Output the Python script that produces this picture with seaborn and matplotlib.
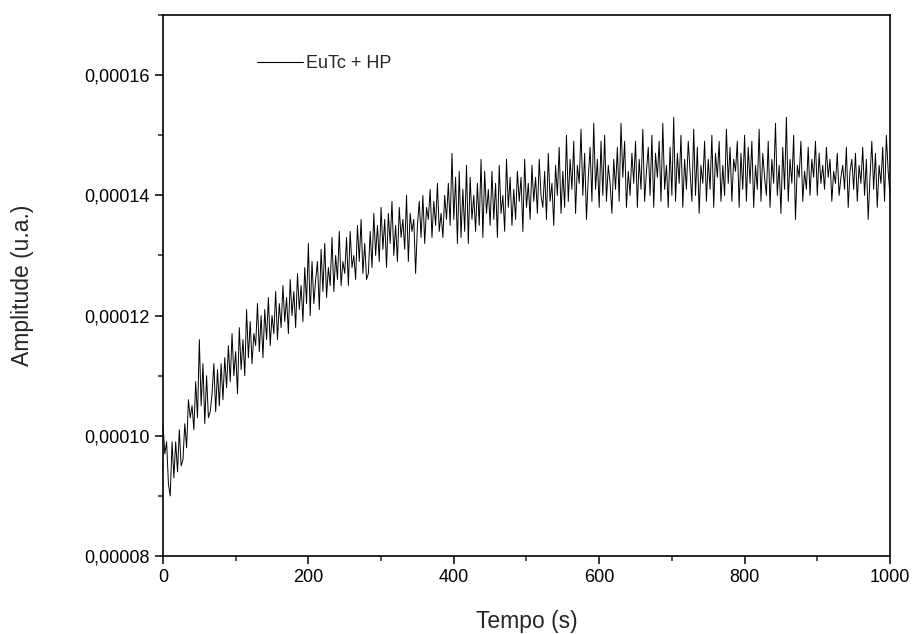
import numpy as np
import matplotlib
matplotlib.use('Agg')
import matplotlib.pyplot as plt
import seaborn as sns
from matplotlib.ticker import FuncFormatter, MultipleLocator

amp_e5 = [
    10.2, 9.7, 9.9, 9.2, 9.0, 9.9, 9.3, 9.9, 9.4, 10.1, 9.5, 9.6, 10.2, 9.8, 10.6, 10.3, 10.5, 10.1, 10.9, 10.3,
    11.6, 10.5, 11.2, 10.2, 11.0, 10.3, 10.4, 10.7, 11.2, 10.4, 11.1, 10.5, 11.2, 10.6, 11.3, 10.8, 11.5, 10.9, 11.7, 11.0,
    11.4, 10.7, 11.8, 11.1, 11.6, 11.0, 12.1, 11.3, 11.9, 11.2, 11.7, 11.5, 12.2, 11.4, 12.0, 11.3, 12.1, 11.6, 12.3, 11.5,
    12.0, 11.7, 12.4, 11.6, 12.2, 11.8, 12.5, 11.9, 12.3, 11.7, 12.6, 12.0, 12.4, 11.8, 12.7, 12.1, 12.5, 11.9, 12.8, 12.2,
    13.2, 12.0, 12.9, 12.2, 12.6, 12.9, 12.1, 13.1, 12.4, 13.2, 12.3, 12.8, 12.5, 13.3, 12.4, 13.0, 12.6, 13.4, 12.5, 12.9,
    12.7, 13.3, 12.5, 13.4, 12.8, 13.0, 12.6, 13.5, 12.9, 13.6, 12.7, 13.2, 12.6, 12.7, 13.4, 12.8, 13.7, 13.0, 13.5, 12.9,
    13.8, 13.1, 13.6, 12.8, 13.7, 13.2, 13.9, 13.0, 13.5, 12.9, 13.8, 13.3, 13.6, 13.1, 14.0, 12.9, 13.7, 13.4, 13.6, 12.7,
    13.5, 13.9, 13.3, 14.0, 13.2, 13.8, 13.6, 14.1, 13.3, 13.9, 13.5, 14.2, 13.4, 13.7, 13.3, 14.0, 13.6, 14.2, 13.5, 14.7,
    13.6, 14.3, 13.2, 14.4, 13.3, 14.1, 13.4, 14.5, 13.2, 14.3, 13.6, 14.0, 13.4, 14.2, 13.5, 14.6, 13.3, 14.4, 13.7, 14.1,
    13.5, 14.4, 13.6, 14.2, 13.3, 14.5, 13.7, 14.0, 13.4, 14.6, 13.8, 14.3, 13.5, 14.1, 13.6, 14.4, 13.9, 14.3, 13.4, 14.6,
    13.8, 14.2, 13.6, 14.5, 13.9, 14.3, 13.7, 14.6, 14.0, 13.8, 14.4, 13.6, 14.7, 13.9, 14.2, 13.5, 14.5, 14.0, 14.8, 13.7,
    14.4, 13.8, 15.0, 13.9, 14.6, 14.1, 14.9, 13.7, 14.5, 14.2, 15.1, 14.0, 14.7, 13.6, 14.3, 14.8, 13.9, 15.2, 14.1, 14.6,
    13.8, 14.9, 14.0, 15.0, 13.9, 14.5, 14.2, 13.7, 14.6, 14.1, 14.8, 13.9, 15.2, 14.3, 14.9, 13.8, 14.4, 14.0, 14.7, 14.2,
    14.9, 13.8, 14.6, 14.1, 15.1, 13.9, 14.4, 14.8, 14.0, 15.0, 13.8, 14.7, 14.3, 14.9, 13.9, 15.2, 14.1, 14.5, 13.8, 14.8,
    14.0, 15.3, 13.9, 14.7, 14.2, 15.0, 13.8, 14.6, 14.1, 14.9, 14.4, 13.9, 15.1, 14.0, 14.8, 13.7, 14.5, 14.2, 14.9, 13.9,
    14.6, 14.1, 15.0, 13.8, 14.7, 14.3, 14.9, 13.9, 14.5, 14.0, 15.1, 14.2, 14.8, 13.9, 14.6, 14.4, 14.9, 13.8, 14.7, 14.1,
    15.0, 13.9, 14.8, 14.2, 14.9, 13.8, 14.5, 14.1, 15.1, 13.9, 14.7, 14.3, 14.0, 14.9, 13.8, 14.6, 14.2, 15.2, 14.0, 14.5,
    13.7, 14.8, 14.1, 15.3, 13.9, 14.6, 14.2, 15.0, 13.6, 14.5, 14.3, 14.9, 13.9, 14.4, 14.1, 14.8, 14.0, 14.6, 14.3, 14.9,
    14.0, 14.7, 14.2, 14.5, 14.1, 14.8, 14.3, 14.6, 13.9, 14.4, 14.2, 14.7, 14.0, 14.3, 14.5, 14.1, 14.8, 13.8, 14.4, 14.6,
    14.1, 14.7, 13.9, 14.5, 14.2, 14.8, 14.0, 14.6, 13.6, 14.3, 14.9, 14.1, 14.7, 13.8, 14.5, 14.2, 14.8, 13.9, 15.0, 14.4,
    14.0,
]
t_start, t_end = 0, 1000
series_label = 'EuTc + HP'

amp = np.array(amp_e5) * 1e-5
tempo = np.linspace(t_start, t_end, len(amp))

sns.set_style('ticks')
plt.rcParams['font.family'] = ['Liberation Sans', 'DejaVu Sans']

fig = plt.figure(figsize=(9.13, 6.34), dpi=100)
ax = fig.add_axes([0.1785, 0.123, 0.7963, 0.8533])

sns.lineplot(x=tempo, y=amp, ax=ax, color='black', linewidth=0.7,
             label=series_label, estimator=None, sort=False)

ax.set_xlim(0, 1000)
ax.set_ylim(0.00008, 0.00017)
ax.xaxis.set_major_locator(MultipleLocator(200))
ax.xaxis.set_minor_locator(MultipleLocator(100))
ax.yaxis.set_major_locator(MultipleLocator(0.00002))
ax.yaxis.set_minor_locator(MultipleLocator(0.00001))
ax.yaxis.set_major_formatter(FuncFormatter(lambda v, p: f'{v:.5f}'.replace('.', ',')))
ax.xaxis.set_major_formatter(FuncFormatter(lambda v, p: f'{v:.0f}'))

ax.tick_params(which='major', direction='out', length=6, width=1.1, labelsize=13, colors='black')
ax.tick_params(which='minor', direction='out', length=3.5, width=1.1)
for s in ax.spines.values():
    s.set_visible(True)
    s.set_linewidth(1.2)
    s.set_color('black')

ax.set_xlabel('Tempo (s)', fontsize=16.5, labelpad=17)
ax.set_ylabel('Amplitude (u.a.)', fontsize=16.5, labelpad=36)

leg = ax.legend(loc='upper left', bbox_to_anchor=(0.13, 0.926), frameon=False,
                fontsize=13, handlelength=2.5, handletextpad=0.2,
                borderaxespad=0, borderpad=0)
for line in leg.get_lines():
    line.set_linewidth(0.8)

fig.savefig('out.png', dpi=100)
